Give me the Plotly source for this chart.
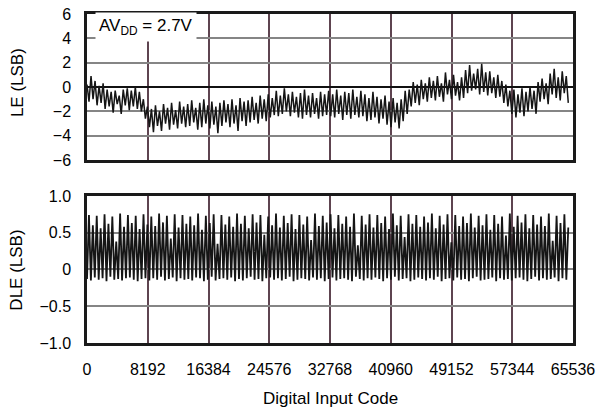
import numpy as np
import plotly.graph_objects as go
from plotly.subplots import make_subplots

le_values = [
    0.2, -1.2, 0.9, -1.0, 0.5, -1.5, 0.1, -1.3, 0.3, -1.8,
    -0.2, -1.6, -0.4, -2.1, -0.3, -1.4, -0.7, -2.2, -0.2, -1.5,
    -0.1, -1.9, -0.3, -1.6, 0.0, -1.8, -0.4, -2.0, -1.0, -2.6,
    -1.6, -3.3, -1.8, -3.7, -1.5, -3.2, -2.0, -3.6, -1.4, -3.0,
    -1.7, -3.5, -1.3, -3.1, -1.9, -3.4, -1.2, -3.0, -1.6, -3.3,
    -1.4, -3.2, -1.1, -2.9, -1.7, -3.5, -1.3, -3.3, -1.0, -3.0,
    -1.5, -3.4, -1.2, -3.1, -1.6, -3.8, -1.3, -3.2, -1.1, -2.9,
    -1.4, -3.3, -1.0, -3.0, -1.5, -3.6, -0.9, -2.8, -1.2, -3.2,
    -1.1, -2.9, -0.8, -2.7, -1.3, -3.0, -0.7, -2.6, -1.0, -2.8,
    -0.6, -2.5, -0.9, -2.3, -0.3, -2.4, -0.7, -2.2, -0.1, -2.0,
    -0.6, -2.4, -0.4, -2.1, -0.8, -2.5, -0.5, -2.6, -0.2, -2.3,
    -0.7, -2.5, -0.5, -2.2, -0.9, -2.6, -0.4, -2.4, -0.6, -2.3,
    -0.3, -2.4, -0.6, -2.5, -0.2, -2.2, -0.7, -2.7, -0.4, -2.3,
    -0.5, -2.6, -0.2, -2.3, -0.8, -2.5, -0.3, -2.4, -0.6, -2.8,
    -0.9, -2.7, -0.4, -2.5, -0.8, -3.0, -1.0, -2.6, -0.7, -3.1,
    -1.2, -3.3, -0.9, -2.9, -1.3, -3.4, -1.0, -2.8, -0.3, -2.2,
    -0.2, -1.6, 0.4, -1.3, 0.2, -1.5, 0.6, -1.0, 0.3, -1.2,
    0.8, -0.9, 0.5, -1.1, 0.9, -0.8, 0.3, -1.2, 1.2, -0.6,
    0.6, -1.0, 1.0, -0.7, 0.4, -1.1, 0.8, -0.9, 1.4, -0.5,
    1.8, -0.3, 1.1, -0.2, 1.5, -0.6, 1.9, -0.4, 1.2, -0.7,
    1.3, -0.5, 0.8, -0.9, 1.0, -0.8, 0.5, -1.3, 0.2, -1.6,
    -0.3, -2.2, -0.2, -2.5, -0.6, -2.1, -0.1, -2.4, -0.4, -2.0,
    0.0, -1.8, -0.3, -2.2, 0.4, -1.2, 0.7, -1.0, 0.3, -1.4,
    1.1, -0.6, 1.5, -0.9, 0.8, -1.1, 1.3, -0.5, 0.9, -1.3,
]

# Differential linearity error (LSB): spike tops and valley bottoms
dle_high = [
    0.74, 0.60, 0.73, 0.56, 0.75, 0.62, 0.72, 0.38, 0.76, 0.58, 0.74, 0.63, 0.73, 0.55, 0.75, 0.61, 0.72,
    0.59, 0.76, 0.64, 0.73, 0.42, 0.75, 0.57, 0.74, 0.62, 0.72, 0.60, 0.76, 0.54, 0.73, 0.63, 0.75,
    0.35, 0.74, 0.61, 0.72, 0.58, 0.76, 0.62, 0.73, 0.56, 0.75, 0.64, 0.74, 0.47, 0.72, 0.60, 0.76,
    0.57, 0.73, 0.63, 0.75, 0.55, 0.74, 0.61, 0.72, 0.40, 0.76, 0.59, 0.73, 0.64, 0.75, 0.56, 0.74,
    0.62, 0.72, 0.58, 0.76, 0.33, 0.73, 0.61, 0.75, 0.57, 0.74, 0.63, 0.72, 0.55, 0.76, 0.60, 0.73,
    0.44, 0.75, 0.62, 0.74, 0.58, 0.72, 0.64, 0.76, 0.56, 0.73, 0.61, 0.75, 0.37, 0.74, 0.59, 0.72,
    0.63, 0.76, 0.57, 0.73, 0.60, 0.75, 0.54, 0.74, 0.62, 0.72, 0.46, 0.76, 0.58, 0.73, 0.64, 0.75,
    0.56, 0.74, 0.61, 0.72, 0.59, 0.76, 0.39, 0.73, 0.63, 0.75, 0.57, 0.74, 0.60, 0.72, 0.62, 0.58,
]
dle_low = [
    -0.13, -0.15, -0.11, -0.14, -0.12, -0.16, -0.10, -0.14, -0.13, -0.15, -0.12, -0.11, -0.14, -0.16, -0.13, -0.12, -0.15,
    -0.12, -0.14, -0.10, -0.15, -0.13, -0.11, -0.16, -0.12, -0.14, -0.13, -0.15, -0.11, -0.12, -0.16, -0.14, -0.10,
    -0.15, -0.13, -0.12, -0.14, -0.11, -0.16, -0.13, -0.15, -0.12, -0.10, -0.14, -0.13, -0.16, -0.12, -0.11,
    -0.14, -0.12, -0.15, -0.13, -0.10, -0.16, -0.14, -0.12, -0.13, -0.15, -0.11, -0.14, -0.12, -0.16, -0.13,
    -0.11, -0.15, -0.13, -0.12, -0.14, -0.16, -0.10, -0.13, -0.15, -0.12, -0.14, -0.11, -0.13, -0.16, -0.12,
    -0.14, -0.10, -0.15, -0.13, -0.12, -0.16, -0.14, -0.11, -0.13, -0.15, -0.12, -0.14, -0.10, -0.16, -0.13,
    -0.12, -0.15, -0.11, -0.14, -0.13, -0.16, -0.12, -0.10, -0.15, -0.14, -0.13, -0.11, -0.16, -0.12, -0.14,
    -0.13, -0.15, -0.12, -0.11, -0.14, -0.16, -0.13, -0.10, -0.15, -0.12, -0.14, -0.13, -0.11, -0.16, -0.12, -0.14,
]

code_ticks = [0, 8192, 16384, 24576, 32768, 40960, 49152, 57344, 65536]
le_ticks = [-6, -4, -2, 0, 2, 4, 6]
le_ticktext = ["\u22126", "\u22124", "\u22122", "0", "2", "4", "6"]
dle_ticks = [-1.0, -0.5, 0, 0.5, 1.0]
dle_ticktext = ["\u22121.0", "\u22120.5", "0", "0.5", "1.0"]
last_code = 64900

le_x = np.linspace(0, last_code, len(le_values))
dle_y = []
for lo, hi in zip(dle_low, dle_high):
    dle_y += [lo, hi]
dle_x = np.linspace(0, last_code, len(dle_y))

font = "Liberation Sans, Arial, sans-serif"
grid_v = "#5e4450"
grid_h = "#858585"

fig = make_subplots(rows=2, cols=1, vertical_spacing=0.11)

fig.add_trace(go.Scatter(x=le_x, y=le_values, mode="lines",
                         line=dict(color="#151515", width=1.5), showlegend=False), row=1, col=1)
fig.add_trace(go.Scatter(x=dle_x, y=dle_y, mode="lines",
                         line=dict(color="#151515", width=1.8), showlegend=False), row=2, col=1)

xcommon = dict(range=[0, 65536], tickmode="array", tickvals=code_ticks,
               showgrid=True, gridcolor=grid_v, gridwidth=1.5,
               showline=True, mirror=True, linecolor="#1a1a1a", linewidth=2.5,
               zeroline=False, ticks="", automargin=False)
fig.update_xaxes(showticklabels=False, **xcommon, row=1, col=1)
fig.update_xaxes(showticklabels=True, ticktext=[str(c) for c in code_ticks],
                 ticklabelstandoff=10, tickfont=dict(size=16), **xcommon, row=2, col=1)

ycommon = dict(showgrid=True, gridcolor=grid_h, gridwidth=1.5,
               showline=True, mirror=True, linecolor="#1a1a1a", linewidth=2.5,
               ticks="", ticklabelstandoff=10, tickfont=dict(size=16), automargin=False)
fig.update_yaxes(range=[-6, 6], tickmode="array", tickvals=le_ticks, ticktext=le_ticktext,
                 zeroline=True, zerolinecolor="#111111", zerolinewidth=1.5,
                 **ycommon, row=1, col=1)
fig.update_yaxes(range=[-1, 1], tickmode="array", tickvals=dle_ticks, ticktext=dle_ticktext,
                 zeroline=False, **ycommon, row=2, col=1)

fig.update_layout(
    width=602, height=411,
    margin=dict(l=87, r=29, t=14, b=68),
    paper_bgcolor="white", plot_bgcolor="white",
    font=dict(family=font, size=16, color="black"),
    xaxis=dict(domain=[0, 1]), yaxis=dict(domain=[0.556, 1.0]),
    xaxis2=dict(domain=[0, 1]), yaxis2=dict(domain=[0.0, 0.447]),
    annotations=[
        dict(text="AV<sub>DD</sub> = 2.7V", xref="x", yref="y", x=1100, y=4.9,
             xanchor="left", yanchor="middle", showarrow=False, bgcolor="white",
             borderpad=3, font=dict(size=17)),
        dict(text="LE (LSB)", xref="paper", yref="paper", x=-0.144, y=0.79,
             textangle=-90, showarrow=False, xanchor="center", yanchor="middle",
             font=dict(size=17)),
        dict(text="DLE (LSB)", xref="paper", yref="paper", x=-0.144, y=0.22,
             textangle=-90, showarrow=False, xanchor="center", yanchor="middle",
             font=dict(size=17)),
        dict(text="Digital Input Code", xref="paper", yref="paper", x=0.5, y=-0.168,
             showarrow=False, xanchor="center", yanchor="middle", font=dict(size=17)),
    ],
)

fig.write_html("out.html", config={"displayModeBar": False},
               post_script="document.body.style.margin='0';")
